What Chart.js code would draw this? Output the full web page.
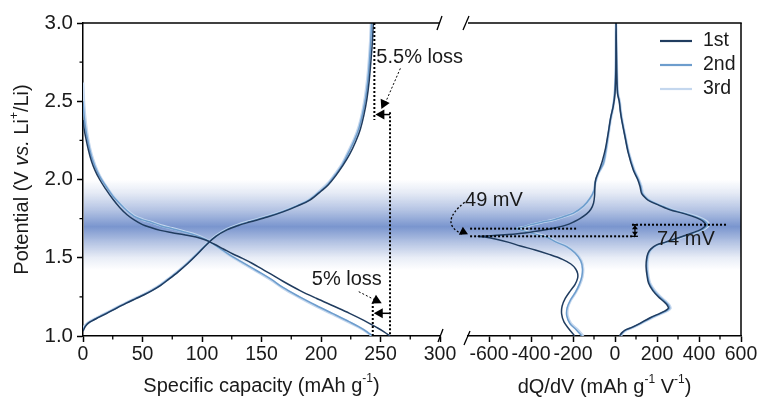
<!DOCTYPE html>
<html><head><meta charset="utf-8">
<script src="https://cdn.jsdelivr.net/npm/chart.js@4.4.1/dist/chart.umd.min.js"></script>
<style>
html,body{margin:0;padding:0;background:#fff;}
#wrap{position:relative;width:762px;height:406px;overflow:hidden;background:#fff;}
#c1{position:absolute;left:0;top:0;}
#c2{position:absolute;left:445px;top:0;}
</style></head><body>
<div id="wrap"><canvas id="c1" width="480" height="406"></canvas><canvas id="c2" width="317" height="406"></canvas></div>
<script>
// ---------- DATA ----------
const seriesNames = ['1st', '2nd', '3rd'];
const capTicks = [0, 50, 100, 150, 200, 250, 300];
const capMinor = [25, 75, 125, 175, 225, 275];
const potTicks = [1.0, 1.5, 2.0, 2.5, 3.0];
const potMinor = [1.25, 1.75, 2.25, 2.75];
const dqTicks = [-600, -400, -200, 0, 200, 400, 600];
const dqMinor = [-500, -300, -100, 100, 300, 500];

// capacity (mAh/g), potential (V)
const discharge1 = [[0,2.38],[1,2.32],[2.5,2.26],[4.5,2.19],[7,2.12],[10,2.06],[14,2.00],[19,1.94],[25,1.875],[31,1.82],[37,1.775],[43,1.742],[50,1.712],[57,1.693],[65,1.675],[75,1.66],[85,1.647],[95,1.632],[103,1.613],[110,1.588],[118,1.556],[126,1.524],[134,1.496],[142,1.465],[150,1.43],[158,1.395],[168,1.35],[182,1.292],[196,1.241],[210,1.193],[224,1.145],[236,1.10],[246,1.058],[253,1.027],[258,1.0]];
const discharge2 = [[0,2.50],[1,2.40],[2.5,2.31],[4.5,2.23],[7,2.15],[10,2.085],[14,2.02],[19,1.96],[25,1.895],[31,1.845],[37,1.800],[43,1.765],[50,1.742],[57,1.727],[65,1.705],[75,1.685],[85,1.665],[95,1.643],[103,1.617],[110,1.585],[118,1.545],[126,1.505],[134,1.47],[142,1.435],[150,1.40],[158,1.363],[168,1.31],[182,1.25],[196,1.195],[210,1.143],[224,1.09],[232,1.058],[238,1.03],[241,1.013],[243.5,1.0]];
const discharge3 = [[0,2.62],[1,2.47],[2.5,2.35],[4.5,2.25],[7,2.165],[10,2.095],[14,2.025],[19,1.962],[25,1.898],[31,1.848],[37,1.803],[43,1.768],[50,1.745],[57,1.729],[65,1.708],[75,1.688],[85,1.667],[95,1.645],[103,1.618],[110,1.585],[118,1.542],[126,1.502],[134,1.466],[142,1.43],[150,1.395],[158,1.358],[168,1.306],[182,1.246],[196,1.19],[210,1.138],[224,1.086],[232,1.055],[238,1.028],[241,1.011],[243,1.0]];
const charge1 = [[0,1.03],[1.5,1.055],[3.5,1.075],[6,1.09],[9,1.102],[14,1.122],[20,1.145],[28,1.177],[36,1.208],[44,1.237],[51,1.262],[58,1.29],[65,1.322],[72,1.362],[80,1.41],[88,1.463],[96,1.522],[104,1.585],[112,1.638],[121,1.678],[130,1.705],[140,1.728],[155,1.76],[168,1.793],[180,1.83],[191,1.87],[200,1.925],[206,1.965],[212,2.02],[218,2.085],[224,2.16],[229,2.24],[233,2.32],[236,2.41],[238.5,2.51],[240.5,2.63],[242,2.76],[243.2,2.88],[244,3.0]];
const charge2 = [[0,1.04],[1.5,1.06],[3.5,1.078],[6,1.092],[9,1.104],[14,1.124],[20,1.147],[28,1.179],[36,1.21],[44,1.239],[51,1.264],[58,1.292],[65,1.325],[72,1.365],[80,1.413],[88,1.466],[96,1.525],[104,1.588],[112,1.64],[121,1.681],[130,1.708],[140,1.731],[155,1.763],[168,1.796],[180,1.833],[191,1.874],[200,1.93],[206,1.972],[212,2.03],[218,2.095],[223,2.17],[228,2.25],[232,2.33],[235,2.42],[237.5,2.52],[239.5,2.64],[240.8,2.76],[241.8,2.88],[242.5,3.0]];
const charge3 = [[0,1.05],[1.5,1.065],[3.5,1.08],[6,1.094],[9,1.106],[14,1.126],[20,1.149],[28,1.181],[36,1.212],[44,1.241],[51,1.266],[58,1.294],[65,1.327],[72,1.367],[80,1.415],[88,1.468],[96,1.527],[104,1.59],[112,1.642],[121,1.683],[130,1.71],[140,1.733],[155,1.765],[168,1.798],[180,1.835],[191,1.877],[200,1.935],[206,1.978],[212,2.037],[218,2.103],[223,2.18],[228,2.26],[232,2.345],[235,2.44],[237.3,2.54],[239.2,2.66],[240.5,2.78],[241.5,2.9],[242,3.0]];

// dQ/dV (mAh g-1 V-1), potential (V): discharge branch bottom-up, charge branch top-down
const dqdvDis1 = [[-192,1.0],[-222,1.05],[-243,1.09],[-254,1.14],[-252,1.19],[-237,1.24],[-212,1.29],[-190,1.33],[-178,1.37],[-178,1.40],[-188,1.43],[-210,1.46],[-250,1.49],[-310,1.52],[-380,1.55],[-450,1.575],[-510,1.60],[-570,1.62],[-620,1.632],[-651,1.637],[-590,1.641],[-510,1.648],[-430,1.658],[-360,1.672],[-290,1.69],[-230,1.71],[-195,1.73],[-167,1.75],[-135,1.78],[-115,1.81],[-102,1.85],[-97,1.90],[-96,1.95],[-92,2.0],[-75,2.06],[-60,2.12],[-45,2.20],[-32,2.30],[-20,2.40],[-8,2.47],[0,2.55],[4,2.7],[5,3.0]];
const dqdvCha1 = [[8,2.7],[12,2.55],[20,2.5],[26,2.43],[32,2.38],[48,2.27],[63,2.17],[87,2.06],[108,2.0],[119,1.955],[127,1.91],[150,1.875],[167,1.86],[210,1.835],[262,1.806],[320,1.785],[373,1.763],[405,1.745],[421,1.731],[432,1.711],[428,1.70],[405,1.678],[350,1.65],[294,1.625],[240,1.60],[198,1.582],[170,1.555],[157,1.529],[150,1.49],[148,1.443],[152,1.39],[160,1.337],[180,1.29],[206,1.251],[232,1.22],[248,1.198],[254,1.177],[238,1.16],[214,1.145],[165,1.115],[119,1.081],[80,1.055],[48,1.038],[32,1.02],[22,1.0]];
const dqdvDis2 = [[-158,1.0],[-185,1.04],[-215,1.08],[-230,1.13],[-228,1.18],[-212,1.23],[-188,1.28],[-170,1.33],[-158,1.38],[-155,1.43],[-163,1.48],[-190,1.53],[-230,1.571],[-280,1.60],[-325,1.631],[-405,1.66],[-450,1.677],[-474,1.686],[-440,1.694],[-405,1.71],[-350,1.727],[-294,1.742],[-240,1.765],[-198,1.785],[-150,1.83],[-119,1.88],[-100,1.93],[-95,1.976],[-80,2.04],[-56,2.10],[-44,2.18],[-33,2.28],[-22,2.38],[-10,2.46],[-2,2.55],[3,2.7],[5,3.0]];
const dqdvCha2 = [[8,2.7],[13,2.55],[21,2.5],[27,2.43],[33,2.38],[49,2.27],[65,2.17],[90,2.06],[111,2.0],[123,1.955],[131,1.91],[154,1.875],[172,1.86],[216,1.835],[270,1.806],[328,1.785],[382,1.763],[415,1.745],[432,1.73],[442,1.712],[437,1.70],[413,1.678],[356,1.65],[298,1.625],[244,1.60],[202,1.582],[173,1.555],[160,1.529],[153,1.49],[151,1.443],[155,1.39],[164,1.337],[185,1.29],[212,1.251],[238,1.22],[254,1.198],[260,1.177],[244,1.16],[219,1.145],[170,1.115],[122,1.081],[83,1.055],[51,1.038],[35,1.02],[25,1.0]];
const dqdvDis3 = [[-150,1.0],[-178,1.04],[-210,1.08],[-226,1.13],[-225,1.18],[-210,1.23],[-186,1.28],[-167,1.33],[-155,1.38],[-152,1.43],[-160,1.48],[-186,1.53],[-226,1.571],[-276,1.60],[-320,1.631],[-398,1.66],[-443,1.677],[-465,1.687],[-432,1.695],[-398,1.711],[-344,1.728],[-290,1.743],[-236,1.766],[-195,1.786],[-147,1.83],[-117,1.88],[-99,1.93],[-94,1.976],[-79,2.04],[-55,2.10],[-43,2.18],[-32,2.28],[-21,2.38],[-9,2.46],[-1,2.55],[3,2.7],[5,3.0]];
const dqdvCha3 = [[9,2.7],[14,2.55],[22,2.5],[28,2.43],[34,2.38],[50,2.27],[66,2.17],[92,2.06],[113,2.0],[126,1.955],[134,1.91],[157,1.875],[176,1.86],[220,1.835],[275,1.806],[333,1.785],[388,1.763],[421,1.745],[438,1.73],[447,1.713],[441,1.70],[417,1.678],[360,1.65],[302,1.625],[248,1.60],[206,1.582],[176,1.555],[163,1.529],[156,1.49],[154,1.443],[158,1.39],[167,1.337],[189,1.29],[216,1.251],[242,1.22],[258,1.198],[264,1.177],[248,1.16],[223,1.145],[174,1.115],[125,1.081],[86,1.055],[54,1.038],[37,1.02],[27,1.0]];

// ---------- STYLE ----------
const FONT = '"Liberation Sans", Arial, sans-serif';
const TXT = '#1a1a1a';
const colors = ['#203c5f', '#6d9dcd', '#c4d7ee'];
const widths = [1.5, 1.5, 2.6];

function ds(data, i) {
  return {label: seriesNames[i], data: data, showLine: true, borderColor: colors[i], backgroundColor: colors[i],
          borderWidth: widths[i], pointRadius: 0, fill: false};
}
const leftDatasets = [
  Object.assign(ds(discharge1, 0), {cubicInterpolationMode: 'monotone'}),
  Object.assign(ds(charge1, 0), {cubicInterpolationMode: 'monotone'}),
  Object.assign(ds(discharge2, 1), {cubicInterpolationMode: 'monotone'}),
  Object.assign(ds(charge2, 1), {cubicInterpolationMode: 'monotone'}),
  Object.assign(ds(discharge3, 2), {cubicInterpolationMode: 'monotone'}),
  Object.assign(ds(charge3, 2), {cubicInterpolationMode: 'monotone'})
];
const rightDatasets = [
  Object.assign(ds(dqdvDis1.concat(dqdvCha1), 0), {tension: 0.3}),
  Object.assign(ds(dqdvDis2.concat(dqdvCha2), 1), {tension: 0.3}),
  Object.assign(ds(dqdvDis3.concat(dqdvCha3), 2), {tension: 0.3})
];

// ---------- HELPERS ----------
function richDraw(ctx, parts, cx, cy, size) {
  const sup = Math.round(size * 0.62);
  let total = 0;
  parts.forEach(p => {
    ctx.font = (p.it ? 'italic ' : '') + (p.sup ? sup : size) + 'px ' + FONT;
    p.w = ctx.measureText(p.t).width; total += p.w;
  });
  let x = cx - total / 2;
  ctx.textAlign = 'left'; ctx.textBaseline = 'middle'; ctx.fillStyle = TXT;
  parts.forEach(p => {
    ctx.font = (p.it ? 'italic ' : '') + (p.sup ? sup : size) + 'px ' + FONT;
    ctx.fillText(p.t, x, cy + (p.sup ? -size * 0.36 : 0));
    x += p.w;
  });
}
function line(ctx, pts, w, dash) {
  ctx.save(); ctx.strokeStyle = '#000'; ctx.lineWidth = w; ctx.setLineDash(dash || []);
  ctx.beginPath(); ctx.moveTo(pts[0][0], pts[0][1]);
  for (let i = 1; i < pts.length; i++) ctx.lineTo(pts[i][0], pts[i][1]);
  ctx.stroke(); ctx.restore();
}
function head(ctx, tx, ty, ang, len, hw) {
  const c = Math.cos(ang), s = Math.sin(ang);
  ctx.save(); ctx.fillStyle = '#000'; ctx.beginPath();
  ctx.moveTo(tx, ty);
  ctx.lineTo(tx - len * c + hw * s, ty - len * s - hw * c);
  ctx.lineTo(tx - len * c - hw * s, ty - len * s + hw * c);
  ctx.closePath(); ctx.fill(); ctx.restore();
}
function text(ctx, t, x, y, size) {
  ctx.save(); ctx.font = size + 'px ' + FONT; ctx.fillStyle = TXT; ctx.textAlign = 'left'; ctx.textBaseline = 'middle';
  ctx.fillText(t, x, y); ctx.restore();
}
function band(ctx, sy, x0, x1) {
  const yA = sy.getPixelForValue(2.0), yB = sy.getPixelForValue(1.42);
  const g = ctx.createLinearGradient(0, yA, 0, yB);
  const c = 'rgba(100,132,198,';
  g.addColorStop(0, c + '0)');
  g.addColorStop(0.15, c + '0.17)');
  g.addColorStop(0.33, c + '0.47)');
  g.addColorStop(0.52, c + '0.86)');
  g.addColorStop(0.7, c + '0.47)');
  g.addColorStop(0.86, c + '0.15)');
  g.addColorStop(1, c + '0)');
  ctx.save(); ctx.fillStyle = g; ctx.fillRect(x0, yA, x1 - x0, yB - yA); ctx.restore();
}
function minorTicks(ctx, sx, sy, ca, xs, ys) {
  ctx.save(); ctx.strokeStyle = '#000'; ctx.lineWidth = 1.3;
  ctx.beginPath();
  xs.forEach(v => { const x = sx.getPixelForValue(v); ctx.moveTo(x, ca.bottom); ctx.lineTo(x, ca.bottom + 3.5); });
  (ys || []).forEach(v => { const y = sy.getPixelForValue(v); ctx.moveTo(ca.left, y); ctx.lineTo(ca.left - 3.5, y); });
  ctx.stroke(); ctx.restore();
}
function tickCfg(cb, size) {
  return {color: TXT, font: {family: FONT, size: size}, maxRotation: 0, autoSkip: false, callback: cb};
}
const gridCfg = {drawOnChartArea: false, drawTicks: true, tickLength: 6, tickColor: '#000', tickWidth: 1.5};
const borderCfg = {display: true, color: '#000', width: 1.5};

// ---------- LEFT CHART ----------
const leftPlugin = {
  id: 'leftDeco',
  beforeDraw(chart) {
    const ca = chart.chartArea;
    band(chart.ctx, chart.scales.y, ca.left + 1, 454);
  },
  afterDraw(chart) {
    const ctx = chart.ctx, ca = chart.chartArea, sx = chart.scales.x, sy = chart.scales.y;
    const X = v => sx.getPixelForValue(v), Y = v => sy.getPixelForValue(v);
    // frame
    line(ctx, [[ca.left - 0.75, ca.top], [ca.right, ca.top]], 1.5);
    line(ctx, [[ca.right - 3, ca.top + 7], [ca.right + 2, ca.top - 7]], 1.3);
    line(ctx, [[ca.right - 2, ca.bottom + 6], [ca.right + 3, ca.bottom - 7]], 1.3);
    minorTicks(ctx, sx, sy, ca, capMinor, potMinor);
    // titles
    richDraw(ctx, [{t: 'Specific capacity (mAh g'}, {t: '-1', sup: true}, {t: ')'}], (ca.left + ca.right) / 2, 386, 20);
    ctx.save(); ctx.translate(22, (ca.top + ca.bottom) / 2); ctx.rotate(-Math.PI / 2);
    richDraw(ctx, [{t: 'Potential (V '}, {t: 'vs.', it: true}, {t: ' Li'}, {t: '+', sup: true}, {t: '/Li)'}], 0, 0, 20);
    ctx.restore();
    // annotations
    const capD1 = discharge1[discharge1.length - 1][0];
    const capC1 = charge1[charge1.length - 1][0];
    const capD2 = discharge2[discharge2.length - 1][0];
    const xd1 = X(capD1), xc1 = X(capC1), xd2 = X(capD2);
    line(ctx, [[xd1, Y(2.43)], [xd1, Y(1.0)]], 2, [2, 2]);
    line(ctx, [[xc1 + 1, Y(3.0)], [xc1 + 1, Y(2.38)]], 2, [2, 2]);
    line(ctx, [[xd1, Y(2.415)], [xc1 + 7, Y(2.415)]], 1.5);
    head(ctx, xc1 + 2, Y(2.415), Math.PI, 9, 5);
    text(ctx, '5.5% loss', xc1 + 3, Y(2.778), 20);
    line(ctx, [[xc1 + 27, Y(2.71)], [xc1 + 12, Y(2.49)]], 1, [2, 2]);
    head(ctx, xc1 + 8, Y(2.45), Math.atan2(Y(2.45) - Y(2.71), -19), 9, 5);
    line(ctx, [[xd2, Y(1.0)], [xd2, Y(1.21)]], 2, [2, 2]);
    line(ctx, [[xd1, Y(1.145)], [xd2 + 7, Y(1.145)]], 1.5);
    head(ctx, xd2 + 1, Y(1.145), Math.PI, 9, 5);
    text(ctx, '5% loss', xd2 - 61, Y(1.358), 20);
    line(ctx, [[xd2 - 14, Y(1.283)], [xd2 + 3, Y(1.228)]], 1, [2, 2]);
    head(ctx, xd2 + 9, Y(1.21), Math.atan2(Y(1.21) - Y(1.283), 23), 9, 5);
  }
};

new Chart(document.getElementById('c1'), {
  type: 'scatter',
  data: {datasets: leftDatasets},
  options: {
    responsive: false, animation: false, events: [],
    layout: {padding: {left: 0, right: 40, top: 23, bottom: 0}},
    plugins: {legend: {display: false}, tooltip: {enabled: false}},
    scales: {
      x: {type: 'linear', min: 0, max: 300,
          afterBuildTicks: s => { s.ticks = capTicks.map(v => ({value: v})); },
          afterFit: s => { s.height = 70; },
          grid: gridCfg, border: borderCfg,
          ticks: Object.assign(tickCfg(v => String(v), 19.5), {padding: 1})},
      y: {type: 'linear', min: 1, max: 3,
          afterBuildTicks: s => { s.ticks = potTicks.map(v => ({value: v})); },
          afterFit: s => { s.width = 83; },
          grid: gridCfg, border: borderCfg,
          ticks: Object.assign(tickCfg(v => Number(v).toFixed(1), 20.5), {padding: 4})}
    }
  },
  plugins: [leftPlugin]
});

// ---------- RIGHT CHART ----------
function extreme(arr, fn) { return arr.reduce((a, b) => fn(b[0], a[0]) ? b : a); }
const rightPlugin = {
  id: 'rightDeco',
  beforeDraw(chart) {
    const ca = chart.chartArea;
    band(chart.ctx, chart.scales.y, 9, ca.right);
  },
  afterDraw(chart) {
    const ctx = chart.ctx, ca = chart.chartArea, sx = chart.scales.x, sy = chart.scales.y;
    const X = v => sx.getPixelForValue(v), Y = v => sy.getPixelForValue(v);
    line(ctx, [[ca.left, ca.top], [ca.right + 0.75, ca.top]], 1.5);
    line(ctx, [[ca.right, ca.top], [ca.right, ca.bottom]], 1.5);
    line(ctx, [[ca.left - 5, ca.top + 7], [ca.left + 1, ca.top - 7]], 1.3);
    line(ctx, [[ca.left - 4, ca.bottom + 9], [ca.left + 2, ca.bottom - 5]], 1.3);
    minorTicks(ctx, sx, sy, ca, dqMinor, null);
    richDraw(ctx, [{t: 'dQ/dV (mAh g'}, {t: '-1', sup: true}, {t: ' V'}, {t: '-1', sup: true}, {t: ')'}], (ca.left + ca.right) / 2, 387, 20);
    // legend
    seriesNames.forEach((n, i) => {
      const y = ca.top + 18 + i * 24;
      ctx.save(); ctx.strokeStyle = colors[i]; ctx.lineWidth = 2.2;
      ctx.beginPath(); ctx.moveTo(ca.right - 81, y); ctx.lineTo(ca.right - 49, y); ctx.stroke(); ctx.restore();
      text(ctx, n, ca.right - 38, y, 19.5);
    });
    // annotations
    const p1 = extreme(dqdvDis1, (a, b) => a < b);
    const p2 = extreme(dqdvDis2, (a, b) => a < b);
    const pc = extreme(dqdvCha1, (a, b) => a > b);
    line(ctx, [[X(-690), Y(p2[1])], [X(-181), Y(p2[1])]], 2, [2, 2]);
    line(ctx, [[X(-690), Y(p1[1])], [X(95), Y(p1[1])]], 2, [2, 2]);
    line(ctx, [[X(81), Y(pc[1])], [X(533), Y(pc[1])]], 2, [2, 2]);
    const xi = X(95);
    line(ctx, [[xi, Y(pc[1])], [xi, Y(p1[1])]], 1.3);
    line(ctx, [[xi - 3, Y(pc[1])], [xi + 3, Y(pc[1])]], 1.3);
    line(ctx, [[xi - 3, Y(p1[1])], [xi + 3, Y(p1[1])]], 1.3);
    head(ctx, xi, Y(pc[1]) + 0.5, -Math.PI / 2, 4, 3);
    head(ctx, xi, Y(p1[1]) - 0.5, Math.PI / 2, 4, 3);
    text(ctx, '74 mV', X(200), Y(1.614), 20);
    text(ctx, '49 mV', X(-714), Y(1.869), 20);
    ctx.save(); ctx.strokeStyle = '#000'; ctx.lineWidth = 1.3; ctx.setLineDash([2, 2]);
    ctx.beginPath(); ctx.moveTo(X(-716), Y(1.855));
    ctx.quadraticCurveTo(X(-840), Y(1.72), X(-728), Y(1.652));
    ctx.stroke(); ctx.restore();
    head(ctx, X(-700), Y(p1[1]) - 2, Math.atan2(4, 8), 8, 4.5);
  }
};

new Chart(document.getElementById('c2'), {
  type: 'scatter',
  data: {datasets: rightDatasets},
  options: {
    responsive: false, animation: false, events: [],
    layout: {padding: {left: 23, right: 21, top: 23, bottom: 0}},
    plugins: {legend: {display: false}, tooltip: {enabled: false}},
    scales: {
      x: {type: 'linear', min: -700, max: 600,
          afterBuildTicks: s => { s.ticks = dqTicks.map(v => ({value: v})); },
          afterFit: s => { s.height = 70; },
          grid: gridCfg, border: borderCfg,
          ticks: Object.assign(tickCfg(v => String(v), 19.5), {padding: 1})},
      y: {type: 'linear', min: 1, max: 3, display: false}
    }
  },
  plugins: [rightPlugin]
});
</script>
</body></html>
